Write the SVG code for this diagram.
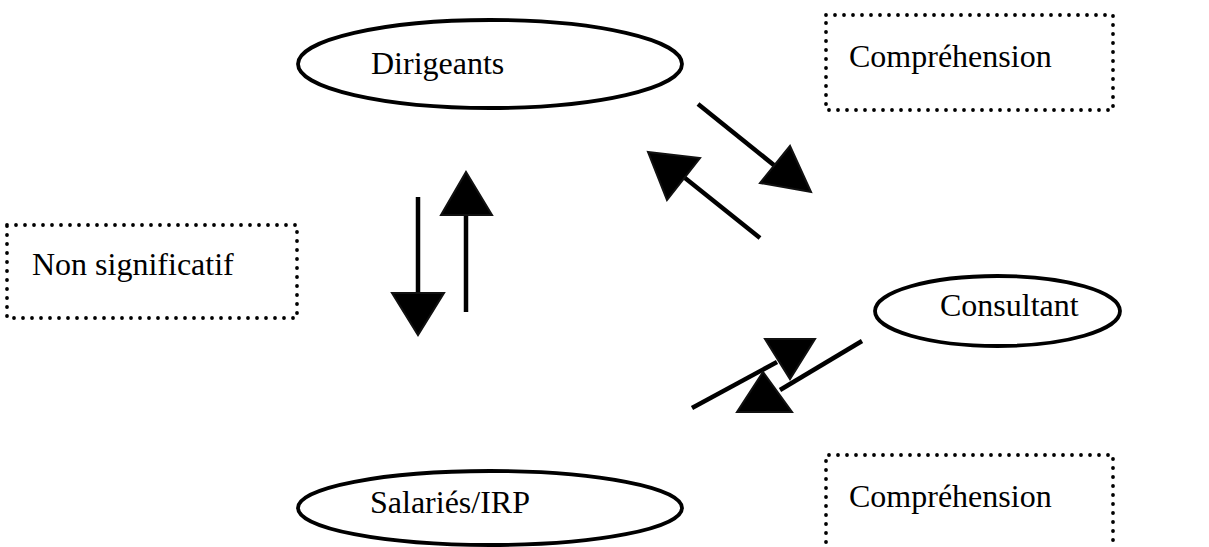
<svg xmlns="http://www.w3.org/2000/svg" width="1209" height="547" viewBox="0 0 1209 547">
<style>
.node{fill:#fff;stroke:#000;stroke-width:3.8}
.box{fill:none;stroke:#000;stroke-width:3.8;stroke-linecap:round;stroke-dasharray:0 9}
.lbl{font-family:"Liberation Serif","Times New Roman",serif;font-size:32px;fill:#000}
.ln{stroke:#000;stroke-width:4.5;fill:none}
.hd{fill:#000;stroke:#111;stroke-width:2;stroke-linejoin:miter}
</style>
<rect width="1209" height="547" fill="#fff"/>
<g id="connectors">
<line class="ln" x1="418" y1="197" x2="418" y2="300"/>
<polygon class="hd" points="392,293 444,293 418,335"/>
<line class="ln" x1="466" y1="312" x2="466" y2="210"/>
<polygon class="hd" points="441,215 492,215 466,172"/>
<line class="ln" x1="698" y1="104" x2="780" y2="170"/>
<polygon class="hd" points="790,146 760,183 811,192"/>
<line class="ln" x1="760" y1="238" x2="680" y2="174"/>
<polygon class="hd" points="648,152 700,158 667,200"/>
<line class="ln" x1="692" y1="408" x2="777" y2="362"/>
<line class="ln" x1="862" y1="341" x2="780" y2="390"/>
<polygon class="hd" points="765,339 815,339 790,379"/>
<polygon class="hd" points="763,372 737,412 792,412"/>
</g>
<g id="dirigeants">
<ellipse class="node" cx="490" cy="64" rx="192" ry="44"/>
<text class="lbl" x="371" y="74">Dirigeants</text>
</g>
<g id="consultant">
<ellipse class="node" cx="997.5" cy="311" rx="122.5" ry="35"/>
<text class="lbl" x="940" y="316">Consultant</text>
</g>
<g id="salaries">
<ellipse class="node" cx="490" cy="508" rx="192" ry="37"/>
<text class="lbl" x="370" y="513">Salariés/IRP</text>
</g>
<g id="comprehension-top">
<rect class="box" x="826" y="15" width="287" height="95"/>
<text class="lbl" x="849" y="67">Compréhension</text>
</g>
<g id="non-significatif">
<rect class="box" x="7" y="225" width="290" height="93"/>
<text class="lbl" x="32" y="275">Non significatif</text>
</g>
<g id="comprehension-bottom">
<path class="box" d="M826,560 V455 H1113 V560"/>
<text class="lbl" x="849" y="507">Compréhension</text>
</g>
</svg>
